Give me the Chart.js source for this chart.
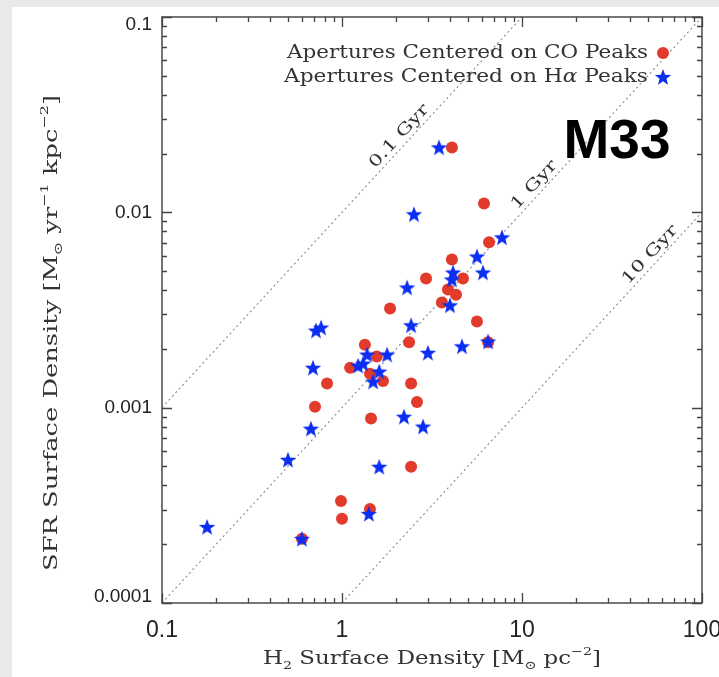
<!DOCTYPE html>
<html>
<head>
<meta charset="utf-8">
<script src="https://cdn.jsdelivr.net/npm/chart.js@4/dist/chart.umd.min.js"></script>
<style>
  html, body { margin: 0; padding: 0; background: #ffffff; }
  #wrap { position: relative; width: 719px; height: 677px; }
  canvas { display: block; }
</style>
</head>
<body>
<div id="wrap"><canvas id="chart" width="719" height="677"></canvas></div>
<script>
// M33: star formation rate vs. molecular gas surface density

// Apertures centred on CO peaks
const coGas = [4.08, 6.15, 6.56, 4.08, 2.93, 4.70, 3.88, 4.30, 3.59, 5.62, 1.85, 2.36, 6.48, 1.34,
               1.56, 1.11, 1.43, 1.69, 2.42, 0.826, 2.61, 0.708, 1.45, 2.42, 0.987, 1.43, 1.00, 0.599];
const coSfr = [0.0215, 0.0111, 0.00702, 0.00574, 0.00459, 0.00459, 0.00403, 0.00379, 0.00345, 0.00276,
               0.00322, 0.00216, 0.00216, 0.00210, 0.00183, 0.00160, 0.00149, 0.00137, 0.00133, 0.00133,
               0.00107, 0.00101, 0.000879, 0.000498, 0.000333, 0.000303, 0.000270, 0.000213];

// Apertures centred on H-alpha peaks
const haGas = [3.46, 2.51, 7.74, 5.62, 4.14, 6.07, 4.08, 2.30, 3.98, 2.42, 4.64, 6.48, 3.00, 1.38,
               1.78, 0.690, 1.23, 1.31, 1.61, 1.49, 0.672, 2.21, 2.82, 0.501, 1.61, 1.41, 0.178, 0.599,
               0.717, 0.765];
const haSfr = [0.0215, 0.00977, 0.00744, 0.00594, 0.00492, 0.00492, 0.00453, 0.00412, 0.00334, 0.00264,
               0.00206, 0.00218, 0.00191, 0.00187, 0.00187, 0.00160, 0.00164, 0.00168, 0.00153, 0.00136,
               0.000780, 0.000899, 0.000800, 0.000541, 0.000498, 0.000286, 0.000245, 0.000213,
               0.00248, 0.00257];

// Constant depletion-time lines (end points)
const depletionLabels = ['0.1 Gyr', '1 Gyr', '10 Gyr'];
const depletionGas = [[0.1, 10], [0.1, 100], [1, 100]];
const depletionSfr = [[0.001, 0.1], [0.0001, 0.1], [0.0001, 0.01]];

// Axis ticks
const xTickValues = [0.1, 1, 10, 100];
const xTickLabels = ['0.1', '1', '10', '100'];
const yTickValues = [0.0001, 0.001, 0.01, 0.1];
const yTickLabels = ['0.0001', '0.001', '0.01', '0.1'];

// Legend entries
const legendLabels = ['Apertures Centered on CO Peaks', 'Apertures Centered on H\u03b1 Peaks'];

// ---- styling ----
const RED = '#e23b2b';
const BLUE = '#0b2ef2';
const SERIF = '"DejaVu Serif", "Liberation Serif", serif';
const SANS = '"Liberation Sans", Arial, sans-serif';
const gyrLabelAt = [2.27, 12.8, 56.2];   // gas density where each line label sits
const gyrLabelWidth = [80, 60, 74];

// filled five-pointed star marker
function makeStar(color, outer, inner) {
  const size = Math.ceil(outer * 2 + 2);
  const c = document.createElement('canvas');
  c.width = size; c.height = size;
  const g = c.getContext('2d');
  g.translate(size / 2, size / 2 + outer * 0.08);
  g.beginPath();
  for (let i = 0; i < 10; i++) {
    const r = i % 2 === 0 ? outer : inner;
    const a = -Math.PI / 2 + i * Math.PI / 5;
    const px = r * Math.cos(a), py = r * Math.sin(a);
    if (i === 0) g.moveTo(px, py); else g.lineTo(px, py);
  }
  g.closePath();
  g.fillStyle = color;
  g.fill();
  return c;
}
const starImg = makeStar(BLUE, 8.6, 3.6);

// text with sub/superscripts, optionally stretched to a given width
function drawRich(ctx, segs, o) {
  const size = o.size;
  const fontFor = s => {
    const sz = s.s ? size * 0.62 : size;
    return (s.italic ? 'italic ' : '') + (o.weight || 'normal') + ' ' + sz + 'px ' + o.family;
  };
  let W = 0;
  const widths = segs.map(s => { ctx.font = fontFor(s); const w = ctx.measureText(s.t).width; W += w; return w; });
  const sx = o.width ? o.width / W : 1;
  ctx.save();
  ctx.translate(o.x, o.y);
  if (o.rot) ctx.rotate(o.rot);
  ctx.scale(sx, 1);
  ctx.fillStyle = o.color || '#222';
  ctx.textBaseline = 'alphabetic';
  ctx.textAlign = 'left';
  let x = o.align === 'right' ? -W : (o.align === 'left' ? 0 : -W / 2);
  const base = size * 0.36;
  segs.forEach((s, i) => {
    ctx.font = fontFor(s);
    let dy = 0;
    if (s.s === 'sub') dy = size * 0.28;
    if (s.s === 'sup') dy = -size * 0.48;
    ctx.fillText(s.t, x, base + dy);
    x += widths[i];
  });
  ctx.restore();
}

const decorations = {
  id: 'decorations',
  beforeDraw(chart) {
    const ctx = chart.ctx;
    ctx.save();
    ctx.fillStyle = '#e9e9e9';
    ctx.fillRect(0, 0, chart.width, chart.height);
    ctx.fillStyle = '#ffffff';
    ctx.fillRect(12, 7, chart.width - 12, chart.height - 7);
    ctx.restore();
  },
  afterDatasetsDraw(chart) {
    const ctx = chart.ctx;
    const xs = chart.scales.x, ys = chart.scales.y;

    // depletion-time labels along their lines
    depletionLabels.forEach((lab, i) => {
      const x1 = xs.getPixelForValue(depletionGas[i][0]), y1 = ys.getPixelForValue(depletionSfr[i][0]);
      const x2 = xs.getPixelForValue(depletionGas[i][1]), y2 = ys.getPixelForValue(depletionSfr[i][1]);
      const ang = Math.atan2(y2 - y1, x2 - x1);
      const px = xs.getPixelForValue(gyrLabelAt[i]);
      const t = (px - x1) / (x2 - x1);
      const py = y1 + t * (y2 - y1);
      const ox = px + Math.sin(ang) * 11, oy = py - Math.cos(ang) * 11;
      drawRich(ctx, [{ t: lab }], { x: ox, y: oy, rot: ang, size: 16, family: SERIF, color: '#333', width: gyrLabelWidth[i] });
    });
  },
  afterDraw(chart) {
    const ctx = chart.ctx;
    const xs = chart.scales.x, ys = chart.scales.y;
    const a = chart.chartArea;
    ctx.save();

    // frame
    ctx.strokeStyle = '#555';
    ctx.lineWidth = 1.6;
    ctx.strokeRect(a.left, a.top, a.right - a.left, a.bottom - a.top);

    // inward ticks on all four sides
    ctx.lineWidth = 1.3;
    ctx.strokeStyle = '#444';
    ctx.beginPath();
    for (let d = -1; d <= 2; d++) {
      for (let k = 1; k <= 9; k++) {
        const v = k * Math.pow(10, d);
        if (v < 0.1 - 1e-9 || v > 100 + 1e-9) continue;
        const len = k === 1 ? 10 : 5;
        const p = Math.round(xs.getPixelForValue(v)) + 0.5;
        ctx.moveTo(p, a.bottom); ctx.lineTo(p, a.bottom - len);
        ctx.moveTo(p, a.top); ctx.lineTo(p, a.top + len);
      }
    }
    for (let d = -4; d <= -1; d++) {
      for (let k = 1; k <= 9; k++) {
        const v = k * Math.pow(10, d);
        if (v < 0.0001 - 1e-12 || v > 0.1 + 1e-12) continue;
        const len = k === 1 ? 10 : 5;
        const p = Math.round(ys.getPixelForValue(v)) + 0.5;
        ctx.moveTo(a.left, p); ctx.lineTo(a.left + len, p);
        ctx.moveTo(a.right, p); ctx.lineTo(a.right - len, p);
      }
    }
    ctx.stroke();

    // tick labels (end labels kept inside the frame)
    ctx.fillStyle = '#222';
    ctx.font = '19px ' + SANS;
    ctx.textAlign = 'right';
    ctx.textBaseline = 'middle';
    yTickValues.forEach((v, i) => {
      const p = Math.min(Math.max(ys.getPixelForValue(v), a.top + 8), a.bottom - 6);
      ctx.fillText(yTickLabels[i], a.left - 10, p);
    });
    ctx.font = '23px ' + SANS;
    ctx.textAlign = 'center';
    xTickValues.forEach((v, i) => ctx.fillText(xTickLabels[i], xs.getPixelForValue(v), 631));
    ctx.restore();

    // axis titles
    drawRich(ctx, [{ t: 'H' }, { t: '2', s: 'sub' }, { t: ' Surface Density [M' }, { t: '\u2299', s: 'sub' },
                   { t: ' pc' }, { t: '\u22122', s: 'sup' }, { t: ']' }],
             { x: (a.left + a.right) / 2, y: 657, size: 19, family: SERIF, color: '#333', width: 338 });
    drawRich(ctx, [{ t: 'SFR Surface Density [M' }, { t: '\u2299', s: 'sub' }, { t: ' yr' }, { t: '\u22121', s: 'sup' },
                   { t: ' kpc' }, { t: '\u22122', s: 'sup' }, { t: ']' }],
             { x: 50, y: 333, rot: -Math.PI / 2, size: 19, family: SERIF, color: '#333', width: 476 });

    // legend
    drawRich(ctx, [{ t: legendLabels[0] }], { x: 648, y: 52, size: 18, family: SERIF, color: '#333', width: 361, align: 'right' });
    drawRich(ctx, [{ t: 'Apertures Centered on H' }, { t: '\u03b1', italic: true }, { t: ' Peaks' }],
             { x: 648, y: 76, size: 18, family: SERIF, color: '#333', width: 364, align: 'right' });
    ctx.save();
    ctx.fillStyle = RED;
    ctx.beginPath();
    ctx.arc(663, 53, 6, 0, Math.PI * 2);
    ctx.fill();
    ctx.drawImage(starImg, 663 - starImg.width / 2, 77 - starImg.height / 2);
    ctx.restore();

    // galaxy name
    ctx.save();
    ctx.fillStyle = '#000';
    ctx.font = 'bold 55px ' + SANS;
    ctx.textAlign = 'center';
    ctx.textBaseline = 'alphabetic';
    ctx.fillText('M33', 617, 158);
    ctx.restore();
  }
};

const toPoints = (xs, ys) => xs.map((x, i) => ({ x: x, y: ys[i] }));

const datasets = [
  {
    label: legendLabels[1],
    data: toPoints(haGas, haSfr),
    pointStyle: starImg,
    pointRadius: 9,
    order: 0
  },
  {
    label: legendLabels[0],
    data: toPoints(coGas, coSfr),
    pointStyle: 'circle',
    pointRadius: 6,
    pointBackgroundColor: RED,
    pointBorderWidth: 0,
    borderWidth: 0,
    order: 1
  }
];
depletionLabels.forEach((lab, i) => {
  datasets.push({
    label: lab,
    data: toPoints(depletionGas[i], depletionSfr[i]),
    showLine: true,
    pointRadius: 0,
    borderColor: '#8a8a8a',
    borderWidth: 1.1,
    borderDash: [2, 3],
    fill: false,
    order: 2
  });
});

new Chart(document.getElementById('chart'), {
  type: 'scatter',
  data: { datasets: datasets },
  options: {
    responsive: false,
    animation: false,
    layout: { padding: { left: 162, right: 17, top: 17, bottom: 74 } },
    plugins: { legend: { display: false }, tooltip: { enabled: false } },
    scales: {
      x: { type: 'logarithmic', min: 0.1, max: 100, display: false },
      y: { type: 'logarithmic', min: 0.0001, max: 0.1, display: false }
    }
  },
  plugins: [decorations]
});
</script>
</body>
</html>
